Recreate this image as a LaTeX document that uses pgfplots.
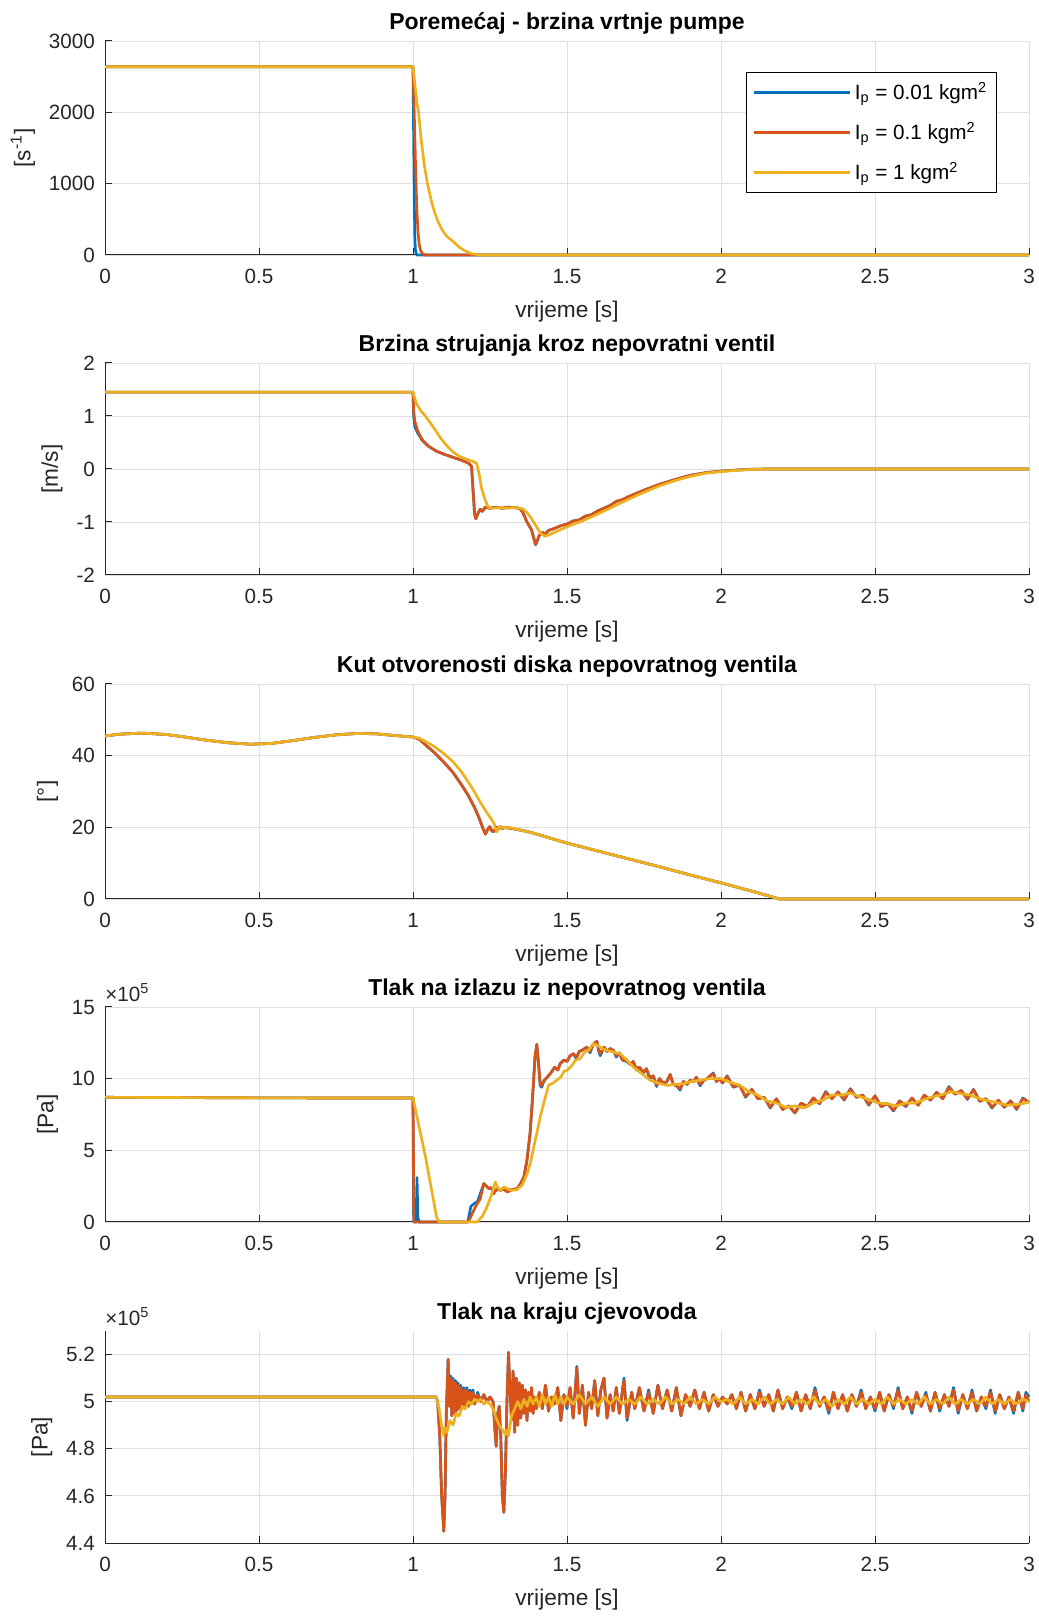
\documentclass[border=0pt]{standalone}
\usepackage{pgfplots}
\pgfplotsset{compat=1.18}
\usepackage{fontspec}
\setmainfont{Liberation Sans}
\definecolor{c1}{RGB}{0,114,189}
\definecolor{c2}{RGB}{217,83,25}
\definecolor{c3}{RGB}{237,177,32}
\definecolor{axc}{RGB}{38,38,38}
\definecolor{gridc}{RGB}{223,223,223}
\pgfplotsset{
  mystyle/.style={
    scale only axis, width=554.4pt, anchor=south west,
    xmin=0, xmax=3, xtick={0,0.5,1,1.5,2,2.5,3},
    xticklabels={0,0.5,1,1.5,2,2.5,3},
    axis x line*=bottom, axis y line*=left,
    tick align=inside, major tick length=4pt,
    grid=major, grid style={gridc, line width=0.5pt},
    axis line style={axc, line width=0.6pt},
    tick style={axc, line width=0.6pt},
    ticklabel style={font=\fontsize{12.4}{14}\selectfont, text=axc},
    xticklabel style={yshift=-5pt},
    yticklabel style={xshift=-2.5pt},
    label style={font=\fontsize{13.6}{16}\selectfont, text=axc},
    xlabel style={yshift=-3.5pt},
    ylabel style={yshift=1.5pt},
    title style={font=\fontsize{13.8}{16}\selectfont\bfseries, yshift=-5.5pt},
    xlabel={vrijeme [s]},
    /pgf/number format/assume math mode=true,
    /pgf/number format/1000 sep={},
    clip=false,
    every axis plot/.append style={line width=1.6pt, line join=round},
  }
}
\begin{document}
\begin{tikzpicture}
\path[use as bounding box] (0,0) rectangle (623.4pt,970.2pt);
% ---------- 1
\begin{axis}[mystyle, at={(63pt,817.2pt)}, height=128.4pt,
  ymin=0, ymax=3000, ytick={0,1000,2000,3000},
  title={Poremećaj - brzina vrtnje pumpe},
  ylabel={[s\textsuperscript{-1}]},
  legend style={at={(0.965,0.855)}, anchor=north east, draw=black, line width=0.6pt,
    font=\fontsize{12.4}{14}\selectfont, row sep=8pt, inner ysep=4pt, inner xsep=3.5pt, cells={anchor=west}},
  legend image code/.code={\draw[#1] (0pt,0pt) -- (58pt,0pt);}]
\addplot[c1] coordinates {(0,2640)(1.0,2640)(1.002,1700)(1.004,800)(1.006,250)(1.008,60)(1.012,0)(3,0)};
\addplot[c2] coordinates {(0,2640)(1.0,2640)(1.004,2000)(1.008,1300)(1.012,700)(1.016,330)(1.02,150)(1.025,60)(1.03,20)(1.04,0)(3,0)};
\addplot[c3] coordinates {(0,2640)(1.0,2640)(1.006,2400)(1.012,2150)(1.018,2000)(1.027,1600)(1.037,1250)(1.047,1000)(1.06,750)(1.07,600)(1.081,470)(1.095,350)(1.11,260)(1.13,190)(1.15,110)(1.17,55)(1.19,20)(1.21,5)(1.23,0)(3,0)};
\legend{I\textsubscript{p} = 0.01 kgm\textsuperscript{2},I\textsubscript{p} = 0.1 kgm\textsuperscript{2},I\textsubscript{p} = 1 kgm\textsuperscript{2}}
\end{axis}
% ---------- 2
\begin{axis}[mystyle, at={(63pt,625.2pt)}, height=127.2pt,
  ymin=-2, ymax=2, ytick={-2,-1,0,1,2},
  title={Brzina strujanja kroz nepovratni ventil},
  ylabel={[m/s]}]
\addplot[c1] coordinates {(0,1.45)(1.0,1.45)(1.002,1.0)(1.006,0.8)(1.015,0.68)(1.03,0.54)(1.05,0.43)(1.075,0.34)(1.1,0.28)(1.13,0.22)(1.16,0.16)(1.18,0.11)(1.19,0.05)(1.195,-0.4)(1.2,-0.85)(1.204,-0.94)(1.21,-0.85)(1.218,-0.76)(1.225,-0.8)(1.235,-0.72)(1.25,-0.74)(1.27,-0.72)(1.29,-0.74)(1.31,-0.72)(1.33,-0.73)(1.345,-0.74)(1.355,-0.8)(1.37,-1.0)(1.385,-1.15)(1.392,-1.3)(1.398,-1.43)(1.404,-1.35)(1.41,-1.25)(1.42,-1.2)(1.43,-1.22)(1.44,-1.16)(1.46,-1.12)(1.48,-1.07)(1.5,-1.04)(1.52,-0.98)(1.54,-0.96)(1.56,-0.89)(1.58,-0.86)(1.6,-0.79)(1.62,-0.74)(1.64,-0.69)(1.66,-0.61)(1.68,-0.58)(1.7,-0.52)(1.75,-0.4)(1.8,-0.29)(1.85,-0.2)(1.9,-0.12)(1.95,-0.07)(2.0,-0.04)(2.05,-0.02)(2.1,-0.005)(2.15,0)(3,0)};
\addplot[c2] coordinates {(0,1.45)(1.0,1.45)(1.002,1.1)(1.006,0.9)(1.015,0.72)(1.03,0.55)(1.05,0.43)(1.075,0.34)(1.1,0.28)(1.13,0.22)(1.16,0.16)(1.18,0.11)(1.19,0.05)(1.195,-0.4)(1.2,-0.85)(1.204,-0.94)(1.21,-0.85)(1.218,-0.76)(1.225,-0.8)(1.235,-0.72)(1.25,-0.74)(1.27,-0.72)(1.29,-0.74)(1.31,-0.72)(1.33,-0.73)(1.345,-0.74)(1.355,-0.8)(1.37,-1.0)(1.385,-1.15)(1.392,-1.3)(1.398,-1.42)(1.404,-1.35)(1.41,-1.25)(1.42,-1.2)(1.43,-1.22)(1.44,-1.16)(1.46,-1.12)(1.48,-1.07)(1.5,-1.04)(1.52,-0.98)(1.54,-0.96)(1.56,-0.89)(1.58,-0.86)(1.6,-0.79)(1.62,-0.74)(1.64,-0.69)(1.66,-0.61)(1.68,-0.58)(1.7,-0.52)(1.75,-0.4)(1.8,-0.29)(1.85,-0.2)(1.9,-0.12)(1.95,-0.07)(2.0,-0.04)(2.05,-0.02)(2.1,-0.005)(2.15,0)(3,0)};
\addplot[c3] coordinates {(0,1.45)(1.0,1.45)(1.01,1.25)(1.025,1.1)(1.04,1.0)(1.055,0.88)(1.072,0.74)(1.09,0.58)(1.11,0.44)(1.126,0.34)(1.15,0.24)(1.18,0.17)(1.2,0.13)(1.207,0.1)(1.215,-0.1)(1.222,-0.35)(1.232,-0.55)(1.244,-0.72)(1.26,-0.74)(1.28,-0.73)(1.3,-0.74)(1.33,-0.73)(1.356,-0.75)(1.37,-0.82)(1.383,-0.92)(1.4,-1.08)(1.415,-1.22)(1.43,-1.27)(1.45,-1.22)(1.5,-1.09)(1.55,-0.98)(1.6,-0.85)(1.65,-0.71)(1.7,-0.57)(1.75,-0.44)(1.8,-0.32)(1.85,-0.22)(1.9,-0.14)(1.95,-0.08)(2.0,-0.05)(2.05,-0.025)(2.1,-0.01)(2.15,0)(3,0)};
\end{axis}
% ---------- 3
\begin{axis}[mystyle, at={(63pt,430.8pt)}, height=129pt,
  ymin=0, ymax=60, ytick={0,20,40,60},
  title={Kut otvorenosti diska nepovratnog ventila},
  ylabel={[°]}]
\addplot[c1] coordinates {(0,45.5)(0.05,46.0)(0.12,46.3)(0.2,45.9)(0.26,45.2)(0.33,44.3)(0.4,43.6)(0.47,43.2)(0.54,43.4)(0.61,44.2)(0.68,45.1)(0.75,45.8)(0.82,46.2)(0.88,46.1)(0.93,45.7)(1.0,45.2)(1.02,44.6)(1.046,42.6)(1.07,40.8)(1.1,38.2)(1.13,35.3)(1.158,31.8)(1.18,28.8)(1.2,25.5)(1.215,22.5)(1.228,19.5)(1.235,18.1)(1.242,19.3)(1.249,20.2)(1.256,19.0)(1.263,18.8)(1.27,20.1)(1.277,19.5)(1.284,20.2)(1.291,19.6)(1.298,20.0)(1.31,19.8)(1.326,19.6)(1.35,19.2)(1.382,18.6)(1.5,15.6)(1.6,13.4)(1.7,11.2)(1.8,9.0)(1.9,6.7)(2.0,4.5)(2.1,2.2)(2.19,0)(3,0)};
\addplot[c2] coordinates {(0,45.5)(0.05,46.0)(0.12,46.3)(0.2,45.9)(0.26,45.2)(0.33,44.3)(0.4,43.6)(0.47,43.2)(0.54,43.4)(0.61,44.2)(0.68,45.1)(0.75,45.8)(0.82,46.2)(0.88,46.1)(0.93,45.7)(1.0,45.2)(1.02,44.6)(1.046,42.6)(1.07,40.8)(1.1,38.2)(1.13,35.3)(1.158,31.8)(1.18,28.8)(1.2,25.5)(1.215,22.5)(1.228,19.5)(1.235,18.1)(1.242,19.3)(1.249,20.2)(1.256,19.0)(1.263,18.8)(1.27,20.1)(1.277,19.5)(1.284,20.2)(1.291,19.6)(1.298,20.0)(1.31,19.8)(1.326,19.6)(1.35,19.2)(1.382,18.6)(1.5,15.6)(1.6,13.4)(1.7,11.2)(1.8,9.0)(1.9,6.7)(2.0,4.5)(2.1,2.2)(2.19,0)(3,0)};
\addplot[c3] coordinates {(0,45.5)(0.05,46.0)(0.12,46.3)(0.2,45.9)(0.26,45.2)(0.33,44.3)(0.4,43.6)(0.47,43.2)(0.54,43.4)(0.61,44.2)(0.68,45.1)(0.75,45.8)(0.82,46.2)(0.88,46.1)(0.93,45.7)(1.0,45.2)(1.02,44.9)(1.046,43.7)(1.07,42.5)(1.1,40.6)(1.13,38.3)(1.158,35.4)(1.18,32.6)(1.2,29.8)(1.22,26.8)(1.242,23.8)(1.255,22.2)(1.263,21.1)(1.268,19.6)(1.272,18.7)(1.278,19.8)(1.284,20.3)(1.291,19.7)(1.298,20.1)(1.305,19.8)(1.315,19.9)(1.326,19.7)(1.35,19.2)(1.382,18.6)(1.5,15.6)(1.6,13.4)(1.7,11.2)(1.8,9.0)(1.9,6.7)(2.0,4.5)(2.1,2.2)(2.19,0)(3,0)};
\end{axis}
% ---------- 4
\begin{axis}[mystyle, at={(63pt,237pt)}, height=129pt,
  ymin=0, ymax=15, ytick={0,5,10,15},
  title={Tlak na izlazu iz nepovratnog ventila},
  ylabel={[Pa]}]
\node[anchor=south west, inner sep=0pt, font=\fontsize{12.4}{14}\selectfont, text=axc] at (rel axis cs:0,1.025) {×10\textsuperscript{5}};
\addplot[c1] coordinates {(0,8.7)(0.5,8.66)(1.0,8.65)(1.002,0)(1.01,0)(1.013,3.1)(1.016,0.3)(1.02,0)(1.178,0)(1.188,1.1)(1.2,1.3)(1.21,1.45)(1.23,2.68)(1.238,2.5)(1.246,2.33)(1.254,2.4)(1.262,1.98)(1.272,2.3)(1.284,2.21)(1.295,2.3)(1.306,2.1)(1.32,2.25)(1.338,2.33)(1.35,2.7)(1.36,3.14)(1.37,4.3)(1.38,6.16)(1.386,8.0)(1.391,9.65)(1.396,11.5)(1.402,12.4)(1.407,11.2)(1.413,9.5)(1.418,9.4)(1.424,9.8)(1.435,10.1)(1.446,10.35)(1.46,10.8)(1.47,10.6)(1.478,11.05)(1.49,11.3)(1.5,11.2)(1.51,11.6)(1.521,11.74)(1.53,11.4)(1.54,11.9)(1.55,12.0)(1.564,12.2)(1.575,11.8)(1.585,12.4)(1.597,12.6)(1.603,11.9)(1.608,11.6)(1.62,12.2)(1.63,11.9)(1.64,12.1)(1.651,11.97)(1.66,11.5)(1.67,11.8)(1.68,11.3)(1.694,11.2)(1.705,11.0)(1.715,11.2)(1.725,10.6)(1.735,10.8)(1.748,10.4)(1.758,10.7)(1.768,10.0)(1.78,10.2)(1.791,9.45)(1.8,10.0)(1.812,9.7)(1.824,9.77)(1.835,10.3)(1.845,9.6)(1.856,9.5)(1.867,9.2)(1.878,9.8)(1.89,9.6)(1.9,9.9)(1.91,9.77)(1.92,10.1)(1.932,9.5)(1.945,9.9)(1.955,10.0)(1.965,10.2)(1.975,10.4)(1.985,9.8)(1.995,10.0)(2.005,9.7)(2.02,10.2)(2.04,9.4)(2.06,9.55)(2.08,8.7)(2.1,9.25)(2.12,8.6)(2.14,8.7)(2.16,7.95)(2.18,8.6)(2.2,7.85)(2.22,8.1)(2.24,7.6)(2.26,8.3)(2.28,8.05)(2.3,8.65)(2.32,8.25)(2.34,9.1)(2.36,8.6)(2.38,9.07)(2.4,8.5)(2.42,9.3)(2.44,8.7)(2.46,8.85)(2.48,8.15)(2.5,8.8)(2.52,8.05)(2.54,8.27)(2.56,7.75)(2.58,8.45)(2.6,8.05)(2.62,8.65)(2.64,8.15)(2.66,8.85)(2.68,8.5)(2.7,9.05)(2.72,8.6)(2.74,9.45)(2.76,8.92)(2.78,9.17)(2.8,8.55)(2.82,9.25)(2.84,8.42)(2.86,8.6)(2.88,7.95)(2.9,8.5)(2.92,8.0)(2.94,8.45)(2.96,7.85)(2.98,8.65)(3.0,8.35)};
\addplot[c2] coordinates {(0,8.7)(0.5,8.66)(1.0,8.65)(1.003,0)(1.18,0)(1.192,0.58)(1.208,1.28)(1.218,1.6)(1.23,2.68)(1.238,2.5)(1.246,2.33)(1.254,2.4)(1.262,1.98)(1.272,2.3)(1.284,2.21)(1.295,2.3)(1.306,2.1)(1.32,2.25)(1.338,2.33)(1.35,2.7)(1.36,3.14)(1.37,4.3)(1.38,6.16)(1.386,8.0)(1.391,9.65)(1.396,11.5)(1.402,12.4)(1.407,11.2)(1.413,9.65)(1.418,9.5)(1.424,9.8)(1.435,10.1)(1.446,10.35)(1.46,10.8)(1.47,10.6)(1.478,11.05)(1.49,11.3)(1.5,11.2)(1.51,11.6)(1.521,11.74)(1.53,11.5)(1.54,11.9)(1.55,12.0)(1.564,12.2)(1.575,11.9)(1.585,12.4)(1.597,12.6)(1.603,12.0)(1.608,11.74)(1.62,12.2)(1.63,11.9)(1.64,12.1)(1.651,11.97)(1.66,11.6)(1.67,11.8)(1.68,11.3)(1.694,11.28)(1.705,11.0)(1.715,11.2)(1.725,10.7)(1.735,10.8)(1.748,10.46)(1.758,10.7)(1.768,10.1)(1.78,10.2)(1.791,9.53)(1.8,10.0)(1.812,9.7)(1.824,9.77)(1.835,10.3)(1.845,9.6)(1.856,9.5)(1.867,9.3)(1.878,9.8)(1.89,9.6)(1.9,9.9)(1.91,9.77)(1.92,10.1)(1.932,9.6)(1.945,9.9)(1.955,10.0)(1.965,10.2)(1.975,10.35)(1.985,9.8)(1.995,10.0)(2.005,9.7)(2.02,10.15)(2.04,9.45)(2.06,9.55)(2.08,8.75)(2.1,9.25)(2.12,8.6)(2.14,8.7)(2.16,8.0)(2.18,8.6)(2.2,7.85)(2.22,8.1)(2.24,7.63)(2.26,8.3)(2.28,8.05)(2.3,8.65)(2.32,8.25)(2.34,9.05)(2.36,8.6)(2.38,9.07)(2.4,8.55)(2.42,9.25)(2.44,8.7)(2.46,8.85)(2.48,8.2)(2.5,8.8)(2.52,8.05)(2.54,8.27)(2.56,7.8)(2.58,8.45)(2.6,8.1)(2.62,8.65)(2.64,8.15)(2.66,8.85)(2.68,8.5)(2.7,9.05)(2.72,8.6)(2.74,9.4)(2.76,8.92)(2.78,9.17)(2.8,8.6)(2.82,9.23)(2.84,8.42)(2.86,8.6)(2.88,8.0)(2.9,8.5)(2.92,8.03)(2.94,8.45)(2.96,7.9)(2.98,8.6)(3.0,8.35)};
\addplot[c3] coordinates {(0,8.7)(0.5,8.66)(1.0,8.65)(1.04,4.6)(1.077,0.3)(1.085,0)(1.208,0)(1.225,0.4)(1.24,1.05)(1.255,1.9)(1.267,2.79)(1.275,2.4)(1.284,2.2)(1.295,2.45)(1.306,2.33)(1.32,2.2)(1.338,2.26)(1.355,2.6)(1.371,3.37)(1.382,4.2)(1.392,5.23)(1.403,6.3)(1.413,7.32)(1.427,8.5)(1.44,9.53)(1.455,9.7)(1.467,9.9)(1.48,10.1)(1.49,10.5)(1.5,10.58)(1.515,10.9)(1.528,11.3)(1.543,11.4)(1.555,11.8)(1.57,12.0)(1.586,12.44)(1.6,12.3)(1.615,12.1)(1.629,11.97)(1.645,11.9)(1.66,11.8)(1.672,11.74)(1.69,11.4)(1.715,10.81)(1.74,10.4)(1.769,9.9)(1.795,9.7)(1.824,9.53)(1.85,9.6)(1.878,9.65)(1.905,9.8)(1.932,9.9)(1.96,10.0)(1.986,10.0)(2.0,10.0)(2.03,9.75)(2.06,9.55)(2.09,9.1)(2.12,8.85)(2.15,8.45)(2.18,8.3)(2.21,8.0)(2.24,8.1)(2.27,7.95)(2.3,8.3)(2.33,8.5)(2.36,8.85)(2.39,8.85)(2.42,9.0)(2.45,8.75)(2.48,8.55)(2.51,8.3)(2.54,8.25)(2.57,8.1)(2.6,8.3)(2.63,8.3)(2.66,8.55)(2.69,8.75)(2.72,8.9)(2.75,9.1)(2.78,8.95)(2.81,8.85)(2.84,8.6)(2.87,8.45)(2.9,8.3)(2.93,8.15)(2.96,8.2)(2.99,8.3)(3.0,8.4)};
\end{axis}
% ---------- 5
\begin{axis}[mystyle, at={(63pt,44.4pt)}, height=127.2pt,
  ymin=4.4, ymax=5.3, ytick={4.4,4.6,4.8,5,5.2},
  yticklabels={4.4,4.6,4.8,5,5.2},
  title={Tlak na kraju cjevovoda},
  ylabel={[Pa]}]
\node[anchor=south west, inner sep=0pt, font=\fontsize{12.4}{14}\selectfont, text=axc] at (rel axis cs:0,1.025) {×10\textsuperscript{5}};
\addplot[c1] coordinates {(0,5.02)(1.075,5.02)(1.08,5.0)(1.087,4.85)(1.093,4.6)(1.1,4.45)(1.104,4.6)(1.108,4.95)(1.114,5.18)(1.118,4.98)(1.122,5.11)(1.126,4.94)(1.13,5.1)(1.134,4.95)(1.138,5.09)(1.142,4.96)(1.146,5.08)(1.15,4.97)(1.155,5.07)(1.16,4.97)(1.165,5.06)(1.17,4.98)(1.175,5.06)(1.18,4.98)(1.185,5.05)(1.19,4.99)(1.195,5.05)(1.2,4.99)(1.21,5.04)(1.22,5.0)(1.23,5.03)(1.24,5.0)(1.25,5.02)(1.26,5.0)(1.265,4.9)(1.27,4.81)(1.275,4.95)(1.28,4.98)(1.285,4.85)(1.29,4.6)(1.295,4.53)(1.3,4.7)(1.305,5.0)(1.31,5.21)(1.315,5.05)(1.32,4.92)(1.325,5.13)(1.33,4.87)(1.335,5.1)(1.34,4.9)(1.345,5.08)(1.35,4.93)(1.355,5.07)(1.36,4.95)(1.365,5.05)(1.37,4.92)(1.375,5.04)(1.38,4.96)(1.385,5.06)(1.39,4.95)(1.395,5.02)(1.4,4.97)(1.41,5.04)(1.42,4.97)(1.43,5.07)(1.44,4.96)(1.45,5.02)(1.46,4.99)(1.47,5.06)(1.48,4.92)(1.49,5.03)(1.5,4.97)(1.51,5.06)(1.52,4.93)(1.532,5.15)(1.54,4.95)(1.55,5.07)(1.56,4.9)(1.57,5.04)(1.58,4.97)(1.59,5.09)(1.6,4.94)(1.61,5.05)(1.62,5.1)(1.63,4.93)(1.64,5.03)(1.65,4.96)(1.66,5.06)(1.67,4.95)(1.685,5.1)(1.695,4.92)(1.71,5.04)(1.72,4.97)(1.735,5.06)(1.75,4.96)(1.765,5.05)(1.78,4.95)(1.795,5.07)(1.81,4.97)(1.825,5.05)(1.84,4.96)(1.855,5.06)(1.87,4.94)(1.885,5.03)(1.9,4.98)(1.915,5.05)(1.93,4.97)(1.945,5.04)(1.96,4.96)(1.975,5.03)(1.99,4.98)(2.005,5.02)(2.02,4.99)(2.035,5.03)(2.05,4.97)(2.065,5.04)(2.08,4.96)(2.095,5.03)(2.11,4.97)(2.125,5.05)(2.14,4.98)(2.155,5.03)(2.17,4.96)(2.185,5.05)(2.2,4.97)(2.215,5.02)(2.23,4.97)(2.245,5.04)(2.26,4.96)(2.275,5.03)(2.29,4.97)(2.305,5.06)(2.32,4.98)(2.335,5.02)(2.35,4.95)(2.365,5.04)(2.38,4.97)(2.395,5.03)(2.41,4.96)(2.425,5.03)(2.44,4.98)(2.455,5.05)(2.47,4.97)(2.485,5.02)(2.5,4.96)(2.515,5.04)(2.53,4.96)(2.545,5.03)(2.56,4.97)(2.575,5.06)(2.59,4.97)(2.605,5.02)(2.62,4.95)(2.635,5.04)(2.65,4.98)(2.665,5.04)(2.68,4.96)(2.695,5.04)(2.71,4.96)(2.725,5.03)(2.74,4.98)(2.755,5.06)(2.77,4.95)(2.785,5.03)(2.8,4.97)(2.815,5.05)(2.83,4.96)(2.845,5.02)(2.86,4.97)(2.875,5.05)(2.89,4.95)(2.905,5.03)(2.92,4.97)(2.935,5.02)(2.95,4.95)(2.965,5.04)(2.98,4.96)(2.99,5.04)(3.0,5.02)};
\addplot[c2] coordinates {(0,5.02)(1.075,5.02)(1.08,5.0)(1.087,4.85)(1.093,4.6)(1.1,4.45)(1.104,4.6)(1.108,4.95)(1.114,5.18)(1.118,4.98)(1.122,5.1)(1.126,4.94)(1.13,5.09)(1.134,4.95)(1.138,5.08)(1.142,4.96)(1.146,5.07)(1.15,4.97)(1.155,5.06)(1.16,4.97)(1.165,5.05)(1.17,4.98)(1.175,5.05)(1.18,4.98)(1.185,5.04)(1.19,4.99)(1.195,5.04)(1.2,4.99)(1.21,5.03)(1.22,5.0)(1.23,5.03)(1.24,5.0)(1.25,5.02)(1.26,5.0)(1.265,4.9)(1.27,4.81)(1.275,4.95)(1.28,4.98)(1.285,4.85)(1.29,4.6)(1.295,4.53)(1.3,4.7)(1.305,5.0)(1.31,5.21)(1.315,5.05)(1.32,4.92)(1.325,5.13)(1.33,4.87)(1.335,5.1)(1.34,4.9)(1.345,5.08)(1.35,4.93)(1.355,5.07)(1.36,4.95)(1.365,5.05)(1.37,4.92)(1.375,5.04)(1.38,4.96)(1.385,5.06)(1.39,4.95)(1.395,5.02)(1.4,4.97)(1.41,5.04)(1.42,4.97)(1.43,5.07)(1.44,4.96)(1.45,5.02)(1.46,4.99)(1.47,5.06)(1.48,4.92)(1.49,5.03)(1.5,4.98)(1.51,5.06)(1.52,4.93)(1.532,5.145)(1.54,4.95)(1.55,5.07)(1.56,4.9)(1.57,5.04)(1.58,4.97)(1.59,5.09)(1.6,4.94)(1.61,5.05)(1.62,5.1)(1.63,4.93)(1.64,5.03)(1.65,4.96)(1.66,5.06)(1.67,4.95)(1.685,5.09)(1.695,4.93)(1.71,5.04)(1.72,4.97)(1.735,5.06)(1.75,4.96)(1.765,5.04)(1.78,4.95)(1.795,5.07)(1.81,4.97)(1.825,5.05)(1.84,4.96)(1.855,5.06)(1.87,4.94)(1.885,5.03)(1.9,4.98)(1.915,5.05)(1.93,4.97)(1.945,5.04)(1.96,4.96)(1.975,5.03)(1.99,4.98)(2.005,5.02)(2.02,4.99)(2.035,5.03)(2.05,4.97)(2.065,5.04)(2.08,4.96)(2.095,5.03)(2.11,4.97)(2.125,5.04)(2.14,4.98)(2.155,5.03)(2.17,4.96)(2.185,5.05)(2.2,4.97)(2.215,5.02)(2.23,4.98)(2.245,5.04)(2.26,4.96)(2.275,5.03)(2.29,4.97)(2.305,5.05)(2.32,4.98)(2.335,5.02)(2.35,4.96)(2.365,5.04)(2.38,4.97)(2.395,5.03)(2.41,4.96)(2.425,5.03)(2.44,4.98)(2.455,5.04)(2.47,4.97)(2.485,5.02)(2.5,4.97)(2.515,5.04)(2.53,4.96)(2.545,5.03)(2.56,4.98)(2.575,5.05)(2.59,4.97)(2.605,5.02)(2.62,4.96)(2.635,5.04)(2.65,4.98)(2.665,5.03)(2.68,4.96)(2.695,5.04)(2.71,4.97)(2.725,5.03)(2.74,4.98)(2.755,5.05)(2.77,4.96)(2.785,5.03)(2.8,4.97)(2.815,5.04)(2.83,4.96)(2.845,5.02)(2.86,4.98)(2.875,5.04)(2.89,4.96)(2.905,5.03)(2.92,4.97)(2.935,5.02)(2.95,4.96)(2.965,5.04)(2.98,4.97)(2.99,5.03)(3.0,5.0)};
\addplot[c3] coordinates {(0,5.02)(1.075,5.02)(1.085,4.97)(1.093,4.9)(1.1,4.855)(1.105,4.89)(1.11,4.87)(1.12,4.92)(1.13,4.9)(1.14,4.95)(1.15,4.94)(1.16,4.98)(1.17,4.97)(1.18,5.0)(1.19,4.99)(1.2,5.01)(1.21,5.0)(1.22,5.01)(1.23,4.99)(1.24,5.0)(1.25,4.99)(1.26,4.97)(1.27,4.93)(1.28,4.9)(1.29,4.88)(1.3,4.86)(1.305,4.88)(1.31,4.855)(1.315,4.9)(1.32,4.94)(1.33,4.97)(1.34,5.0)(1.35,4.97)(1.36,5.01)(1.37,4.98)(1.38,5.02)(1.39,4.99)(1.4,5.02)(1.41,4.98)(1.42,5.03)(1.43,4.99)(1.44,5.02)(1.45,4.98)(1.46,5.03)(1.47,4.99)(1.48,5.02)(1.49,4.99)(1.5,5.02)(1.52,4.99)(1.54,5.03)(1.56,4.99)(1.58,5.02)(1.6,4.98)(1.62,5.02)(1.64,4.99)(1.66,5.02)(1.68,4.99)(1.7,5.01)(1.72,4.99)(1.74,5.02)(1.76,4.99)(1.78,5.01)(1.8,4.99)(1.82,5.02)(1.84,4.99)(1.86,5.01)(1.88,4.99)(1.9,5.02)(1.92,4.99)(1.94,5.01)(1.96,4.99)(1.98,5.02)(2.0,5.0)(2.02,5.01)(2.04,4.99)(2.06,5.02)(2.08,4.99)(2.1,5.01)(2.12,4.99)(2.14,5.02)(2.16,4.99)(2.18,5.01)(2.2,4.99)(2.22,5.02)(2.24,4.99)(2.26,5.01)(2.28,4.99)(2.3,5.02)(2.32,4.99)(2.34,5.01)(2.36,4.98)(2.38,5.01)(2.4,4.99)(2.42,5.02)(2.44,4.99)(2.46,5.01)(2.48,4.99)(2.5,5.01)(2.52,4.99)(2.54,5.02)(2.56,4.99)(2.58,5.01)(2.6,4.99)(2.62,5.01)(2.64,4.99)(2.66,5.02)(2.68,4.99)(2.7,5.01)(2.72,4.99)(2.74,5.02)(2.76,4.99)(2.78,5.01)(2.8,4.99)(2.82,5.01)(2.84,4.99)(2.86,5.02)(2.88,4.99)(2.9,5.01)(2.92,4.99)(2.94,5.01)(2.96,4.99)(2.98,5.01)(3.0,5.0)};
\end{axis}
\end{tikzpicture}
\end{document}
